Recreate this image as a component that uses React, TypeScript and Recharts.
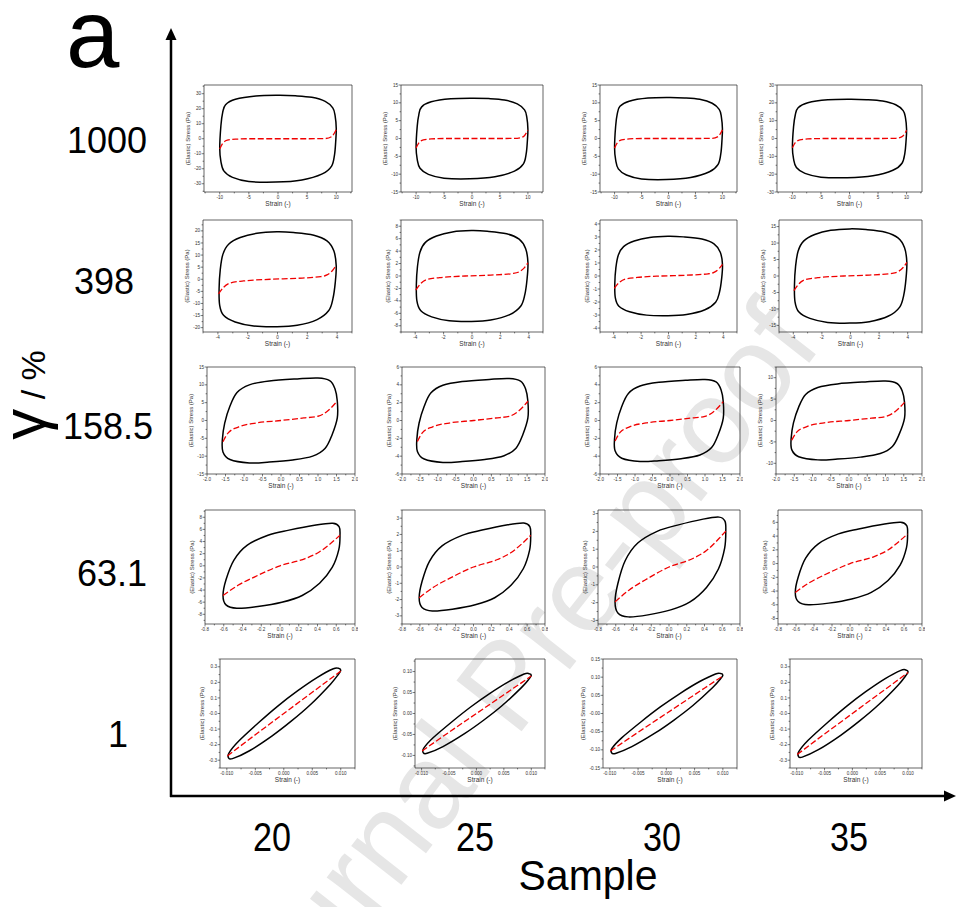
import { LineChart, Line, XAxis, YAxis, ReferenceArea } from 'recharts';

const ROW_LABELS = ['1000', '398', '158.5', '63.1', '1'];
const SAMPLE_LABELS = ['20', '25', '30', '35'];

// strain amplitude of each row (gamma / 100)
const strainAmp = [10, 4, 1.585, 0.64, 0.01];

// peak elastic stress of each loop (Pa), rows x samples
const stressPeak = [
  [28.9, 11.3, 11.5, 22.0],
  [19.6, 7.3, 3.05, 14.3],
  [11.9, 4.7, 4.6, 9.2],
  [7.0, 2.7, 2.8, 6.0],
  [0.29, 0.095, 0.11, 0.28],
];

// loop outlines: [strain / amplitude, stress / peak]
const loop1000 = [
  [1.0, 0.23], [0.98, 0.53], [0.94, 0.71], [0.81, 0.86], [0.58, 0.955], [0.3, 0.99], [0.0, 1.0],
  [-0.38, 0.985], [-0.73, 0.91], [-0.9, 0.785], [-0.95, 0.6], [-0.98, 0.3], [-1.0, -0.22],
  [-0.98, -0.52], [-0.93, -0.74], [-0.78, -0.89], [-0.5, -0.985], [-0.04, -1.0], [0.41, -0.95],
  [0.76, -0.81], [0.92, -0.63], [0.97, -0.37], [0.99, -0.07],
];
const loop398 = [
  [0.985, 0.29], [0.945, 0.6], [0.83, 0.81], [0.61, 0.93], [0.27, 0.985], [-0.01, 1.0],
  [-0.345, 0.97], [-0.625, 0.88], [-0.82, 0.74], [-0.915, 0.53], [-0.96, 0.21], [-0.98, -0.2],
  [-0.97, -0.55], [-0.905, -0.76], [-0.71, -0.9], [-0.4, -0.985], [-0.01, -1.0], [0.33, -0.97],
  [0.665, -0.85], [0.86, -0.66], [0.93, -0.41], [0.97, -0.06],
];
const loop158 = [
  [0.96, 0.46], [0.92, 0.75], [0.83, 0.94], [0.63, 1.0], [0.28, 0.98], [-0.2, 0.93],
  [-0.54, 0.84], [-0.75, 0.66], [-0.87, 0.34], [-0.96, -0.06], [-1.0, -0.45], [-0.99, -0.74],
  [-0.87, -0.92], [-0.54, -1.0], [-0.2, -0.98], [0.2, -0.93], [0.54, -0.84], [0.75, -0.66],
  [0.87, -0.34], [0.96, 0.06],
];
const loop63 = [
  [1.0, 0.72], [0.985, 0.92], [0.88, 1.0], [0.6, 0.96], [0.15, 0.84], [-0.2, 0.72],
  [-0.55, 0.48], [-0.77, 0.13], [-0.9, -0.33], [-0.95, -0.7], [-0.9, -0.92], [-0.72, -1.0],
  [-0.37, -0.96], [0.03, -0.86], [0.37, -0.7], [0.66, -0.41], [0.87, -0.04], [0.98, 0.38],
];
const loop1 = [
  [1.0, 0.96], [0.96, 1.0], [0.87, 0.99], [0.59, 0.8], [0.24, 0.5], [-0.1, 0.17], [-0.44, -0.2],
  [-0.79, -0.61], [-0.96, -0.87], [-0.97, -0.98], [-0.9, -1.0], [-0.61, -0.83], [-0.21, -0.5],
  [0.13, -0.17], [0.47, 0.2], [0.82, 0.65], [0.96, 0.87],
];

// elastic (red dashed) curves
const elastic1000 = [
  [-1.0, -0.235], [-0.95, -0.107], [-0.87, -0.035], [-0.73, -0.01], [-0.44, 0], [0, 0],
  [0.53, 0], [0.81, 0.005], [0.92, 0.048], [1.0, 0.21],
];
const elastic398 = [
  [-0.99, -0.31], [-0.905, -0.17], [-0.79, -0.077], [-0.57, -0.036], [-0.12, 0], [0.33, 0.02],
  [0.725, 0.056], [0.83, 0.092], [0.92, 0.18], [0.985, 0.29],
];
const elastic158 = [
  [-0.99, -0.5], [-0.9, -0.29], [-0.72, -0.15], [-0.43, -0.06], [0, 0], [0.39, 0.06],
  [0.63, 0.1], [0.8, 0.23], [0.96, 0.46],
];
const elastic63 = [
  [-0.95, -0.7], [-0.7, -0.46], [-0.42, -0.26], [0, 0], [0.42, 0.17], [0.66, 0.33],
  [0.88, 0.57], [1.0, 0.72],
];
const elastic1 = [[-0.99, -0.94], [-0.5, -0.47], [0, 0], [0.5, 0.47], [1.0, 0.94]];

const LOOPS = [loop1000, loop398, loop158, loop63, loop1];
const ELASTIC = [elastic1000, elastic398, elastic158, elastic63, elastic1];

// strain axes per row
const xTicks = [
  [-10, -5, 0, 5, 10],
  [-4, -2, 0, 2, 4],
  [-2, -1.5, -1, -0.5, 0, 0.5, 1, 1.5, 2],
  [-0.8, -0.6, -0.4, -0.2, 0, 0.2, 0.4, 0.6, 0.8],
  [-0.01, -0.005, 0, 0.005, 0.01],
];
const xDomain = [[-12.7, 12.7], [-5, 5], [-2, 2], [-0.8, 0.8], [-0.0112, 0.0125]];
const xDecimals = [0, 0, 1, 1, 3];

// stress axes per panel
const yTicks = [
  [[-30, -20, -10, 0, 10, 20, 30], [-15, -10, -5, 0, 5, 10, 15], [-15, -10, -5, 0, 5, 10, 15], [-30, -20, -10, 0, 10, 20, 30]],
  [[-20, -15, -10, -5, 0, 5, 10, 15, 20], [-8, -6, -4, -2, 0, 2, 4, 6, 8], [-4, -3, -2, -1, 0, 1, 2, 3, 4], [-15, -10, -5, 0, 5, 10, 15]],
  [[-15, -10, -5, 0, 5, 10, 15], [-6, -4, -2, 0, 2, 4, 6], [-6, -4, -2, 0, 2, 4, 6], [-10, -5, 0, 5, 10]],
  [[-8, -6, -4, -2, 0, 2, 4, 6, 8], [-3, -2, -1, 0, 1, 2, 3], [-3, -2, -1, 0, 1, 2, 3], [-8, -6, -4, -2, 0, 2, 4, 6]],
  [[-0.3, -0.2, -0.1, 0, 0.1, 0.2, 0.3], [-0.1, -0.05, 0, 0.05, 0.1], [-0.15, -0.1, -0.05, 0, 0.05, 0.1, 0.15], [-0.3, -0.2, -0.1, 0, 0.1, 0.2, 0.3]],
];
const yDomain = [
  [[-35.5, 35.8], [-15, 15], [-15, 15], [-30, 30]],
  [[-21.8, 24.5], [-9, 9], [-4.3, 4.3], [-17, 17]],
  [[-15, 15], [-6, 6], [-6, 6], [-12.5, 12.5]],
  [[-9.6, 9.2], [-3.5, 3.5], [-3.2, 3.2], [-8.8, 7.8]],
  [[-0.35, 0.35], [-0.13, 0.13], [-0.15, 0.15], [-0.35, 0.35]],
];
const yDecimals = [[0, 0, 0, 0], [0, 0, 0, 0], [0, 0, 0, 0], [0, 0, 0, 0], [1, 2, 2, 1]];

// frame of each small plot on the page
const boxX = [
  [[204, 352], [401, 543], [600, 737], [777, 922]],
  [[203, 352], [401, 543], [600, 737], [779, 922]],
  [[207, 355], [402, 545], [600, 740], [776, 922]],
  [[205, 355], [402, 545], [598, 740], [778, 922]],
  [[220, 355], [415, 545], [603, 737], [790, 922]],
];
const boxY = [[85, 192], [220, 332], [367, 474], [510, 624], [659, 768]];

const FONT = '"Liberation Sans", Arial, sans-serif';
const PAD_L = 18;
const PAD_R = 3;
const PAD_T = 3;
const PAD_B = 10;

const fmt = (v: number, d: number) => v.toFixed(d);

const withMinor = (majors: number[], domain: number[]) => {
  const step = majors[1] - majors[0];
  const out: number[] = [];
  for (let k = -6; k <= majors.length * 2 + 6; k++) {
    const v = +(majors[0] + (k * step) / 2).toPrecision(10);
    if (v >= domain[0] - 1e-12 && v <= domain[1] + 1e-12) out.push(v);
  }
  return out;
};

const isMajor = (majors: number[], v: number) => majors.some((m) => Math.abs(m - v) < 1e-9);

function XTick(props: any) {
  const { x, y, payload, majors, decimals } = props;
  const major = isMajor(majors, payload.value);
  return (
    <g>
      <line x1={x} x2={x} y1={y} y2={y + (major ? 2.4 : 1.4)} stroke="#222" strokeWidth={0.6} />
      {major && (
        <text x={x} y={y + 6.8} textAnchor="middle" fontSize={4.6} fill="#333" fontFamily={FONT}>
          {fmt(payload.value, decimals)}
        </text>
      )}
    </g>
  );
}

function YTick(props: any) {
  const { x, y, payload, majors, decimals } = props;
  const major = isMajor(majors, payload.value);
  return (
    <g>
      <line x1={x} x2={x - (major ? 2.4 : 1.4)} y1={y} y2={y} stroke="#222" strokeWidth={0.6} />
      {major && (
        <text x={x - 3} y={y + 1.6} textAnchor="end" fontSize={4.6} fill="#333" fontFamily={FONT}>
          {fmt(payload.value, decimals)}
        </text>
      )}
    </g>
  );
}

// closed Catmull-Rom curve for the Lissajous loops
function closedLoop(context: any) {
  let pts: number[][] = [];
  return {
    areaStart() {},
    areaEnd() {},
    lineStart() {
      pts = [];
    },
    point(x: number, y: number) {
      pts.push([x, y]);
    },
    lineEnd() {
      const n = pts.length;
      if (!n) return;
      context.moveTo(pts[0][0], pts[0][1]);
      for (let i = 0; i < n; i++) {
        const p0 = pts[(i - 1 + n) % n];
        const p1 = pts[i];
        const p2 = pts[(i + 1) % n];
        const p3 = pts[(i + 2) % n];
        context.bezierCurveTo(
          p1[0] + (p2[0] - p0[0]) / 6,
          p1[1] + (p2[1] - p0[1]) / 6,
          p2[0] - (p3[0] - p1[0]) / 6,
          p2[1] - (p3[1] - p1[1]) / 6,
          p2[0],
          p2[1],
        );
      }
      context.closePath();
    },
  };
}

function Panel({ row, col }: { row: number; col: number }) {
  const [left, right] = boxX[row][col];
  const [top, bottom] = boxY[row];
  const w = right - left;
  const h = bottom - top;
  const amp = strainAmp[row];
  const peak = stressPeak[row][col];
  const loopData = LOOPS[row].map(([u, v]) => ({ x: u * amp, y: v * peak }));
  const elasticData = ELASTIC[row].map(([u, v]) => ({ x: u * amp, y: v * peak }));
  const xd = xDomain[row];
  const yd = yDomain[row][col];

  return (
    <div style={{ position: 'absolute', left: left - PAD_L, top: top - PAD_T }}>
      <LineChart
        width={w + PAD_L + PAD_R}
        height={h + PAD_T + PAD_B}
        margin={{ top: PAD_T, right: PAD_R, bottom: 0, left: 0 }}
      >
        <XAxis
          type="number"
          dataKey="x"
          domain={xd}
          ticks={withMinor(xTicks[row], xd)}
          interval={0}
          allowDataOverflow
          height={PAD_B}
          tickSize={0}
          tickMargin={0}
          tickLine={false}
          axisLine={false}
          tick={<XTick majors={xTicks[row]} decimals={xDecimals[row]} />}
        />
        <YAxis
          type="number"
          dataKey="y"
          domain={yd}
          ticks={withMinor(yTicks[row][col], yd)}
          interval={0}
          allowDataOverflow
          width={PAD_L}
          tickSize={0}
          tickMargin={0}
          tickLine={false}
          axisLine={false}
          tick={<YTick majors={yTicks[row][col]} decimals={yDecimals[row][col]} />}
        />
        <ReferenceArea x1={xd[0]} x2={xd[1]} y1={yd[0]} y2={yd[1]} fill="none" stroke="#222" strokeWidth={0.7} ifOverflow="visible" />
        <Line
          data={loopData}
          dataKey="y"
          type={closedLoop as any}
          stroke="#000"
          strokeWidth={1.5}
          dot={false}
          activeDot={false}
          isAnimationActive={false}
        />
        <Line
          data={elasticData}
          dataKey="y"
          type="monotone"
          stroke="#f00000"
          strokeWidth={1.3}
          strokeDasharray="6 2.5"
          dot={false}
          activeDot={false}
          isAnimationActive={false}
        />
      </LineChart>
    </div>
  );
}

function PanelTitles({ row, col }: { row: number; col: number }) {
  const [left, right] = boxX[row][col];
  const [top, bottom] = boxY[row];
  const labels = yTicks[row][col].map((v) => fmt(v, yDecimals[row][col]));
  const tickW = Math.max(...labels.map((s) => s.length)) * 2.4;
  const lx = left - 3 - tickW - 3.5;
  const ly = (top + bottom) / 2;
  return (
    <g fontFamily={FONT} fill="#333">
      <text x={lx} y={ly} fontSize={6} textAnchor="middle" transform={`rotate(-90 ${lx} ${ly})`}>
        (Elastic) Stress (Pa)
      </text>
      <text x={(left + right) / 2} y={bottom + 14} fontSize={6.5} textAnchor="middle">
        Strain (-)
      </text>
    </g>
  );
}

const rowLabelX = [107, 104, 108, 112, 118];
const rowLabelY = [153, 294, 439, 586, 747];
const sampleX = [272, 475, 662, 849];

export default function App() {
  const cells: { row: number; col: number }[] = [];
  for (let r = 0; r < 5; r++) for (let c = 0; c < 4; c++) cells.push({ row: r, col: c });

  return (
    <div style={{ position: 'absolute', left: 0, top: 0, width: 956, height: 907, background: '#fff', overflow: 'hidden' }}>
      <svg width={956} height={907} style={{ position: 'absolute', left: 0, top: 0 }}>
        <text
          x={538}
          y={710}
          textAnchor="middle"
          fontSize={120}
          fill="#e6e6e6"
          fontFamily={FONT}
          transform="rotate(-52 538 710)"
        >
          Journal Pre-proof
        </text>
      </svg>
      {cells.map((p) => (
        <Panel key={`${p.row}-${p.col}`} row={p.row} col={p.col} />
      ))}
      <svg width={956} height={907} style={{ position: 'absolute', left: 0, top: 0, pointerEvents: 'none' }}>
        {cells.map((p) => (
          <PanelTitles key={`t${p.row}-${p.col}`} row={p.row} col={p.col} />
        ))}
        <g fontFamily={FONT} fill="#000">
          <text x={66} y={67} fontSize={96}>a</text>
          {ROW_LABELS.map((s, i) => (
            <text key={s} x={rowLabelX[i]} y={rowLabelY[i]} fontSize={36} textAnchor="middle">
              {s}
            </text>
          ))}
          {SAMPLE_LABELS.map((s, i) => (
            <text key={s} x={sampleX[i]} y={851} fontSize={41} textAnchor="middle" textLength={38} lengthAdjust="spacingAndGlyphs">
              {s}
            </text>
          ))}
          <text x={588} y={890} fontSize={43} textAnchor="middle" textLength={139} lengthAdjust="spacingAndGlyphs">
            Sample
          </text>
          <text x={45} y={395} textAnchor="middle" transform="rotate(-90 45 395)">
            <tspan fontSize={62}>γ</tspan>
            <tspan fontSize={34}> / %</tspan>
          </text>
        </g>
        <g stroke="#000" strokeWidth={2.5} fill="#000">
          <line x1={171} y1={797} x2={171} y2={38} />
          <line x1={170} y1={796} x2={946} y2={796} />
          <polygon points="171,28 165.5,40 176.5,40" stroke="none" />
          <polygon points="956,796 944,790.5 944,801.5" stroke="none" />
        </g>
      </svg>
    </div>
  );
}
